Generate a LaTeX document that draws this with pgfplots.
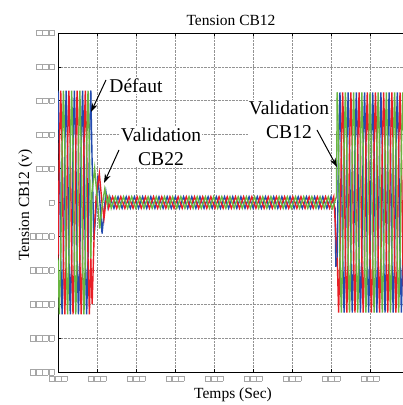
\documentclass[border=0pt]{standalone}
\usepackage{fontspec}
\setmainfont{Liberation Serif}
\newfontfamily\annf{Liberation Serif}
\usepackage{pgfplots}
\pgfplotsset{compat=1.18}
\usepackage{pgfplotstable}
\usetikzlibrary{arrows.meta}
\definecolor{cb}{RGB}{35,75,175}
\definecolor{cr}{RGB}{232,30,38}
\definecolor{cg}{RGB}{105,182,65}
\newcommand{\bx}{{\color{gray!70}\setlength{\fboxsep}{0pt}\setlength{\fboxrule}{0.4pt}\fbox{\rule{0pt}{5pt}\hspace{5pt}}}\hspace{0.4pt}}

\pgfplotstableread{
t b r g
0.000 3.3 -1.65 -1.65
0.035 1.65 1.65 -3.3
0.070 -1.65 3.3 -1.65
0.105 -3.3 1.65 1.65
0.140 -1.65 -1.65 3.3
0.175 1.65 -3.3 1.65
0.210 3.3 -1.65 -1.65
0.245 1.65 1.65 -3.3
0.280 -1.65 3.3 -1.65
0.315 -3.3 1.65 1.65
0.350 -1.65 -1.65 3.3
0.385 1.65 -3.3 1.65
0.420 3.3 -1.65 -1.65
0.455 1.65 1.65 -3.3
0.490 -1.65 3.3 -1.65
0.525 -3.3 1.65 1.65
0.560 -1.65 -1.65 3.3
0.595 1.65 -3.3 1.65
0.630 3.3 -1.65 -1.65
0.665 1.65 1.65 -3.3
0.700 -1.65 3.3 -1.65
0.735 -3.3 1.65 1.65
0.770 -1.65 -1.65 3.3
0.805 1.65 -3.3 1.65
0.840 3.3 -1.65 -1.65
}\lefttab

\pgfplotstableread{
t b r g
7.160 -1.625 -1.625 3.25
7.195 1.625 -3.25 1.625
7.230 3.25 -1.625 -1.625
7.265 1.625 1.625 -3.25
7.300 -1.625 3.25 -1.625
7.335 -3.25 1.625 1.625
7.370 -1.625 -1.625 3.25
7.405 1.625 -3.25 1.625
7.440 3.25 -1.625 -1.625
7.475 1.625 1.625 -3.25
7.510 -1.625 3.25 -1.625
7.545 -3.25 1.625 1.625
7.580 -1.625 -1.625 3.25
7.615 1.625 -3.25 1.625
7.650 3.25 -1.625 -1.625
7.685 1.625 1.625 -3.25
7.720 -1.625 3.25 -1.625
7.755 -3.25 1.625 1.625
7.790 -1.625 -1.625 3.25
7.825 1.625 -3.25 1.625
7.860 3.25 -1.625 -1.625
7.895 1.625 1.625 -3.25
7.930 -1.625 3.25 -1.625
7.965 -3.25 1.625 1.625
8.000 -1.625 -1.625 3.25
8.035 1.625 -3.25 1.625
8.070 3.25 -1.625 -1.625
8.105 1.625 1.625 -3.25
8.140 -1.625 3.25 -1.625
8.175 -3.25 1.625 1.625
8.210 -1.625 -1.625 3.25
8.245 1.625 -3.25 1.625
8.280 3.25 -1.625 -1.625
8.315 1.625 1.625 -3.25
8.350 -1.625 3.25 -1.625
8.385 -3.25 1.625 1.625
8.420 -1.625 -1.625 3.25
8.455 1.625 -3.25 1.625
8.490 3.25 -1.625 -1.625
8.525 1.625 1.625 -3.25
8.560 -1.625 3.25 -1.625
8.595 -3.25 1.625 1.625
8.630 -1.625 -1.625 3.25
8.665 1.625 -3.25 1.625
8.700 3.25 -1.625 -1.625
8.735 1.625 1.625 -3.25
8.770 -1.625 3.25 -1.625
8.805 -3.25 1.625 1.625
8.840 -1.625 -1.625 3.25
8.875 1.625 -3.25 1.625
8.910 3.25 -1.625 -1.625
8.945 1.625 1.625 -3.25
}\righttab

\begin{document}
\begin{tikzpicture}
\useasboundingbox (0,0) rectangle (403pt,405pt);
\begin{axis}[
  at={(58pt,33pt)}, anchor=south west,
  scale only axis, width=348pt, height=339pt,
  xmin=0, xmax=8.923, ymin=-5, ymax=5,
  xtick={0,1,2,3,4,5,6,7,8},
  ytick={-5,-4,-3,-2,-1,0,1,2,3,4,5},
  xticklabels={\bx\bx\bx,\bx\bx\bx,\bx\bx\bx,\bx\bx\bx,\bx\bx\bx,\bx\bx\bx,\bx\bx\bx,\bx\bx\bx,\bx\bx\bx},
  yticklabels={\bx\bx\bx\bx,\bx\bx\bx\bx,\bx\bx\bx\bx,\bx\bx\bx\bx,\bx\bx\bx\bx,\bx,\bx\bx\bx,\bx\bx\bx,\bx\bx\bx,\bx\bx\bx,\bx\bx\bx},
  grid=major,
  grid style={gray!85, densely dotted, line width=0.6pt},
  axis line style={black, line width=0.8pt},
  tick style={black, line width=0.6pt},
  major tick length=3pt,
  tick align=inside,
  xtick pos=both, ytick pos=left,
  every axis plot/.append style={line width=1.4pt, mark=none},
]
% left segment
\addplot[cb] table[x=t,y=b] {\lefttab};
\addplot[cr] table[x=t,y=r] {\lefttab};
\addplot[cg] table[x=t,y=g] {\lefttab};
% transient + steady state
\addplot[cb] coordinates {(0.84,3.3)(0.875,1.2)(0.92,-1.1)(0.97,-0.3)(1.02,0.8)(1.07,0.1)(1.13,-0.92)(1.18,-0.3)(1.23,0.3)(1.28,-0.12)
(1.330,0.17)(1.435,-0.17)(1.540,0.17)(1.645,-0.17)(1.750,0.17)(1.855,-0.17)(1.960,0.17)(2.065,-0.17)(2.170,0.17)(2.275,-0.17)(2.380,0.17)(2.485,-0.17)(2.590,0.17)(2.695,-0.17)(2.800,0.17)(2.905,-0.17)(3.010,0.17)(3.115,-0.17)(3.220,0.17)(3.325,-0.17)(3.430,0.17)(3.535,-0.17)(3.640,0.17)(3.745,-0.17)(3.850,0.17)(3.955,-0.17)(4.060,0.17)(4.165,-0.17)(4.270,0.17)(4.375,-0.17)(4.480,0.17)(4.585,-0.17)(4.690,0.17)(4.795,-0.17)(4.900,0.17)(5.005,-0.17)(5.110,0.17)(5.215,-0.17)(5.320,0.17)(5.425,-0.17)(5.530,0.17)(5.635,-0.17)(5.740,0.17)(5.845,-0.17)(5.950,0.17)(6.055,-0.17)(6.160,0.17)(6.265,-0.17)(6.370,0.17)(6.475,-0.17)(6.580,0.17)(6.685,-0.17)(6.790,0.17)(6.895,-0.17)(7.000,0.17)(7.105,-0.17)(7.125,-1.9)(7.160,-1.625)};
\addplot[cr] coordinates {(0.84,-1.65)(0.875,-3.0)(0.93,-0.85)(0.98,0.2)(1.06,0.85)(1.12,0.1)(1.18,-0.47)(1.23,0.05)(1.26,0.15)
(1.295,-0.17)(1.400,0.17)(1.505,-0.17)(1.610,0.17)(1.715,-0.17)(1.820,0.17)(1.925,-0.17)(2.030,0.17)(2.135,-0.17)(2.240,0.17)(2.345,-0.17)(2.450,0.17)(2.555,-0.17)(2.660,0.17)(2.765,-0.17)(2.870,0.17)(2.975,-0.17)(3.080,0.17)(3.185,-0.17)(3.290,0.17)(3.395,-0.17)(3.500,0.17)(3.605,-0.17)(3.710,0.17)(3.815,-0.17)(3.920,0.17)(4.025,-0.17)(4.130,0.17)(4.235,-0.17)(4.340,0.17)(4.445,-0.17)(4.550,0.17)(4.655,-0.17)(4.760,0.17)(4.865,-0.17)(4.970,0.17)(5.075,-0.17)(5.180,0.17)(5.285,-0.17)(5.390,0.17)(5.495,-0.17)(5.600,0.17)(5.705,-0.17)(5.810,0.17)(5.915,-0.17)(6.020,0.17)(6.125,-0.17)(6.230,0.17)(6.335,-0.17)(6.440,0.17)(6.545,-0.17)(6.650,0.17)(6.755,-0.17)(6.860,0.17)(6.965,-0.17)(7.070,0.17)(7.160,-1.625)};
\addplot[cg] coordinates {(0.84,-1.65)(0.87,0.3)(0.94,1.0)(1.0,0.2)(1.07,-0.77)(1.13,-0.1)(1.2,0.4)(1.27,-0.05)(1.31,0.17)
(1.365,-0.17)(1.470,0.17)(1.575,-0.17)(1.680,0.17)(1.785,-0.17)(1.890,0.17)(1.995,-0.17)(2.100,0.17)(2.205,-0.17)(2.310,0.17)(2.415,-0.17)(2.520,0.17)(2.625,-0.17)(2.730,0.17)(2.835,-0.17)(2.940,0.17)(3.045,-0.17)(3.150,0.17)(3.255,-0.17)(3.360,0.17)(3.465,-0.17)(3.570,0.17)(3.675,-0.17)(3.780,0.17)(3.885,-0.17)(3.990,0.17)(4.095,-0.17)(4.200,0.17)(4.305,-0.17)(4.410,0.17)(4.515,-0.17)(4.620,0.17)(4.725,-0.17)(4.830,0.17)(4.935,-0.17)(5.040,0.17)(5.145,-0.17)(5.250,0.17)(5.355,-0.17)(5.460,0.17)(5.565,-0.17)(5.670,0.17)(5.775,-0.17)(5.880,0.17)(5.985,-0.17)(6.090,0.17)(6.195,-0.17)(6.300,0.17)(6.405,-0.17)(6.510,0.17)(6.615,-0.17)(6.720,0.17)(6.825,-0.17)(6.930,0.17)(7.035,-0.17)(7.140,0.17)(7.160,3.25)};
% right segment
\addplot[cb] table[x=t,y=b] {\righttab};
\addplot[cr] table[x=t,y=r] {\righttab};
\addplot[cg] table[x=t,y=g] {\righttab};
\end{axis}
% annotations (text and arrows)
\node[fill=white, inner sep=1pt, scale=1.26, font={\annf\fontsize{15.5}{19}\selectfont}] at (136pt,319pt) {Défaut};
\draw[-{Stealth[length=9pt,width=6pt]}, line width=1pt] (106pt,325pt) -- (91pt,293pt);
\node[fill=white, inner sep=1pt, align=center, scale=1.26, font={\annf\fontsize{15.5}{19}\selectfont}] at (161pt,258pt) {Validation\\CB22};
\draw[-{Stealth[length=9pt,width=6pt]}, line width=1pt] (119pt,255pt) -- (104pt,222pt);
\node[fill=white, inner sep=1pt, align=center, scale=1.26, font={\annf\fontsize{15.5}{19}\selectfont}] at (289pt,285pt) {Validation\\CB12};
\draw[-{Stealth[length=9pt,width=6pt]}, line width=1pt] (317pt,275pt) -- (337pt,238pt);
\node[anchor=base, font={\annf\fontsize{15.5}{18}\selectfont}] at (231pt,379pt) {Tension CB12};
\node[anchor=base, font={\annf\fontsize{15.5}{18}\selectfont}] at (233pt,6pt) {Temps (Sec)};
\node[anchor=base, rotate=90, font={\annf\fontsize{15.5}{18}\selectfont}] at (29pt,200pt) {Tension CB12 (v)};
\end{tikzpicture}
\end{document}
